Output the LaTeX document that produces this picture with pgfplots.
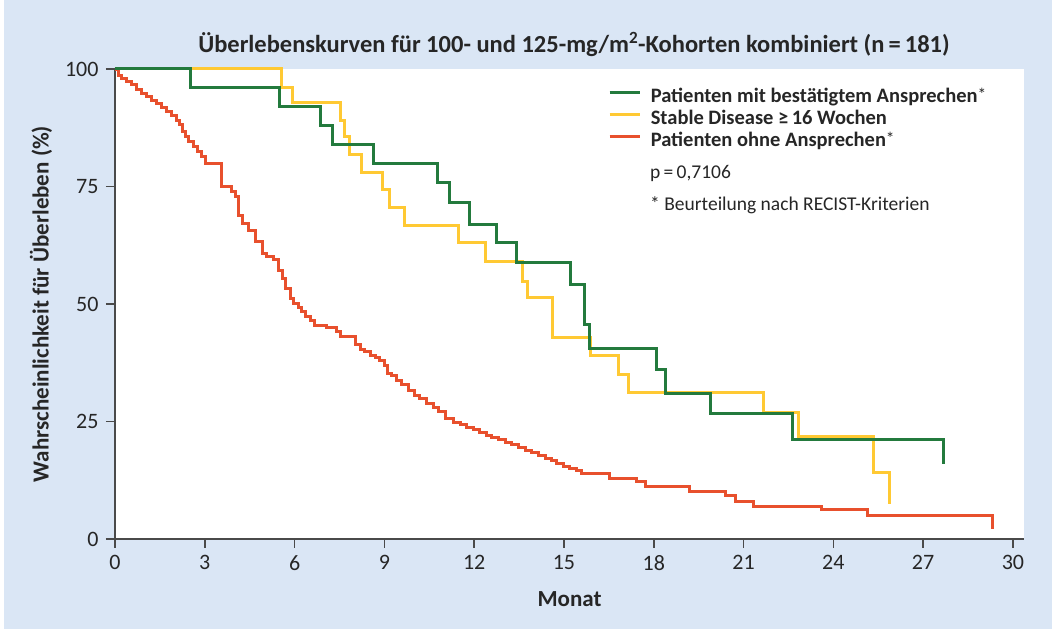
\documentclass[border=0pt]{standalone}
\usepackage{pgfplots}
\pgfplotsset{compat=1.18}
\usepackage{fontspec}
\setmainfont{Carlito}
\definecolor{bgblue}{HTML}{DAE6F5}
\definecolor{kmgreen}{HTML}{237A3D}
\definecolor{kmyellow}{HTML}{FFC933}
\definecolor{kmred}{HTML}{E8502D}
\definecolor{axgray}{HTML}{4A4A4A}
\newcommand{\supast}{{\mdseries\raisebox{0.25ex}{\scalebox{0.85}{*}}}}
\begin{document}
\begin{tikzpicture}[x=1pt,y=1pt]
\fill[white] (0,0) rectangle (1052,629);
\fill[bgblue] (4,0) rectangle (1052,629);
\begin{axis}[
  at={(115pt,90pt)}, anchor=south west,
  scale only axis, width=909pt, height=470pt,
  xmin=0, xmax=30.37, ymin=0, ymax=100,
  clip=false,
  axis background/.style={fill=white},
  axis x line=bottom, axis y line=left,
  axis line style={-, axgray, line width=1.6pt},
  xtick={0,3,...,30}, ytick={0,25,50,75,100},
  tick align=outside, major tick length=9pt,
  tick style={axgray, line width=1.6pt},
  ticklabel style={font=\fontsize{22}{26}\selectfont, text=black!85},
  xticklabel style={yshift=-4pt},
  yticklabel style={xshift=-4pt},
  /pgf/number format/assume math mode=true,
  xlabel={Monat}, ylabel={Wahrscheinlichkeit für Überleben (\%)},
  label style={font=\bfseries\fontsize{23}{27}\selectfont, text=black!85},
  xlabel style={yshift=-14pt},
  ylabel style={yshift=6pt},
  legend style={at={(rel axis cs:0.5424,0.960)}, anchor=north west, draw=none, fill=none,
    font=\bfseries\fontsize{20.5}{24}\selectfont, text=black!85, row sep=0pt, inner sep=0pt,
    /tikz/every odd column/.append style={column sep=10pt},
    nodes={inner sep=0pt, text height=15pt, text depth=7pt}},
  legend cell align=left,
  legend image code/.code={\draw[#1, line width=2.5pt] (0pt,6.5pt) -- (30pt,6.5pt);},
]
\addlegendimage{kmgreen}
\addlegendentry{Patienten mit bestätigtem Ansprechen\supast}
\addlegendimage{kmyellow}
\addlegendentry{Stable Disease ≥\,16 Wochen}
\addlegendimage{kmred}
\addlegendentry{Patienten ohne Ansprechen\supast}

\addplot[const plot, kmred, line width=3pt, forget plot] coordinates {
(0,100) (0.06,99.8) (0.11,98.7) (0.22,98.0) (0.39,97.3) (0.56,96.6) (0.73,95.7)
(0.89,94.8) (1.06,94.1) (1.23,93.4) (1.39,92.7) (1.56,91.8) (1.73,90.9) (1.89,90.2)
(2.06,89.1) (2.17,88.1) (2.26,86.7) (2.37,85.6) (2.47,84.5) (2.62,83.5) (2.76,82.4)
(2.90,81.3) (3.04,79.9) (3.56,75.0) (3.90,73.9) (4.04,72.8) (4.12,68.9) (4.27,67.2)
(4.45,65.7) (4.68,63.3) (4.93,60.8) (5.07,60.1) (5.29,59.4) (5.46,57.2) (5.59,55.5)
(5.68,53.3) (5.85,51.2) (5.96,50.1) (6.12,49.3) (6.24,48.4) (6.35,47.3) (6.52,46.4)
(6.68,45.5) (7.07,45.0) (7.41,44.1) (7.54,43.0) (8.05,41.3) (8.19,40.4) (8.35,39.9)
(8.54,39.1) (8.69,38.7) (8.85,37.9) (9.02,37.0) (9.10,35.3) (9.24,34.7) (9.41,33.8)
(9.58,32.8) (9.80,31.7) (10.02,30.6) (10.19,29.9) (10.41,28.9) (10.63,28.0) (10.80,27.1)
(11.03,25.7) (11.30,24.7) (11.53,24.3) (11.75,23.8) (11.97,23.2) (12.19,22.7) (12.42,22.1)
(12.59,21.6) (12.81,21.1) (13.03,20.6) (13.25,20.1) (13.47,19.4) (13.70,18.9) (13.92,18.4)
(14.14,17.8) (14.37,17.2) (14.59,16.6) (14.76,16.1) (14.98,15.5) (15.20,15.0) (15.43,14.5)
(15.59,14.0) (16.51,12.8) (17.41,12.2) (17.74,11.1) (19.21,10.1) (20.41,9.2) (20.74,7.9)
(21.33,7.0) (23.61,6.3) (25.15,5.0) (29.33,2.1)
};
\addplot[const plot, kmyellow, line width=3pt, forget plot] coordinates {
(0,100) (5.57,96.1) (5.94,92.8) (7.52,89.0) (7.68,85.7) (7.83,81.9) (8.24,77.9)
(8.94,74.3) (9.16,70.5) (9.66,66.6) (11.47,63.0) (12.37,59.1) (13.61,54.8) (13.77,51.3)
(14.63,42.8) (15.87,39.1) (16.82,35.1) (17.17,31.1) (21.67,27.0) (22.83,21.9)
(25.34,14.2) (25.87,7.4)
};
\addplot[const plot, kmgreen, line width=3pt, forget plot] coordinates {
(0,100) (2.51,96.0) (5.51,92.0) (6.85,88.0) (7.26,84.0) (8.65,79.8) (10.77,75.8)
(11.16,71.5) (11.86,67.0) (12.76,63.1) (13.42,58.8) (15.21,54.2) (15.68,45.6)
(15.86,40.6) (18.08,36.0) (18.38,31.0) (19.88,26.7) (22.64,21.2) (27.68,15.9)
};
\node[anchor=west, inner sep=0pt, font=\fontsize{19.5}{23}\selectfont, text=black!85] at (rel axis cs:0.5886,0.777) {p\,=\,0,7106};
\node[anchor=west, inner sep=0pt, font=\fontsize{19.5}{23}\selectfont, text=black!85] at (rel axis cs:0.5886,0.711) {* Beurteilung nach RECIST-Kriterien};
\end{axis}
\node[font=\bfseries\fontsize{24.5}{28}\selectfont, text=black!85] at (574,585) {Überlebenskurven für 100- und 125-mg/m\textsuperscript{2}-Kohorten kombiniert (n\,=\,181)};
\end{tikzpicture}
\end{document}
